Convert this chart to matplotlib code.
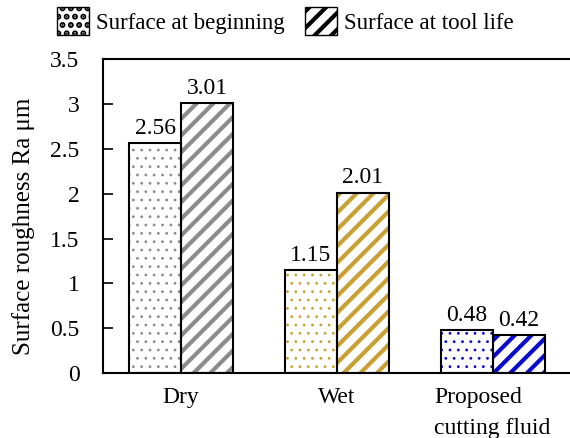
import numpy as np
import matplotlib
matplotlib.use("Agg")
import matplotlib.pyplot as plt
from matplotlib.patches import Patch

plt.rcParams['font.family'] = ['Liberation Serif', 'DejaVu Serif']

categories = ["Dry", "Wet", "Proposed\ncutting fluid"]
beginning = [2.56, 1.15, 0.48]
tool_life = [3.01, 2.01, 0.42]
colors = ["#8c8c8c", "#c9a033", "#0a0acc"]
series_names = ["Surface at beginning", "Surface at tool life"]

fig = plt.figure(figsize=(5.7, 4.38), dpi=100)
ax = fig.add_axes([0.181, 0.148, 0.82, 0.717])

x = np.arange(len(categories))
w = 0.333
fs = 17

for i in range(len(categories)):
    # dotted bar (beginning)
    plt.rcParams['hatch.linewidth'] = 0.8
    ax.bar(x[i] - w / 2, beginning[i], w, facecolor="white", edgecolor=colors[i],
           hatch="..", linewidth=0)
    # striped bar (tool life)
    plt.rcParams['hatch.linewidth'] = 3.0
    ax.bar(x[i] + w / 2, tool_life[i], w, facecolor="white", edgecolor=colors[i],
           hatch="//", linewidth=0)
    # black outlines
    ax.bar(x[i] - w / 2, beginning[i], w, facecolor="none", edgecolor="black", linewidth=1.5)
    ax.bar(x[i] + w / 2, tool_life[i], w, facecolor="none", edgecolor="black", linewidth=1.5)
    ax.text(x[i] - w / 2, beginning[i] + 0.05, f"{beginning[i]:.2f}", ha="center",
            va="bottom", fontsize=fs)
    ax.text(x[i] + w / 2, tool_life[i] + 0.05, f"{tool_life[i]:.2f}", ha="center",
            va="bottom", fontsize=fs)

ax.set_xlim(-0.5, 2.5)
ax.set_ylim(0, 3.5)
ax.set_yticks(np.arange(0, 3.51, 0.5))
ax.set_yticklabels(["0", "0.5", "1", "1.5", "2", "2.5", "3", "3.5"])
ax.set_xticks(x)
ax.set_xticklabels(categories, fontsize=fs, linespacing=1.6, va="top",
                   multialignment="left")
ax.tick_params(axis="y", direction="in", length=7, width=1.2, labelsize=fs, pad=17)
ax.tick_params(axis="x", length=0, pad=10)
for s in ["left", "bottom", "top"]:
    ax.spines[s].set_linewidth(1.5)
ax.spines["right"].set_visible(False)
ax.set_ylabel("Surface roughness Ra μm", fontsize=18)
ax.yaxis.set_label_coords(-0.145, 0.468)

plt.rcParams['hatch.linewidth'] = 3.0
handles = [Patch(facecolor="white", edgecolor="black", hatch="..", linewidth=1),
           Patch(facecolor="white", edgecolor="black", hatch="//", linewidth=1)]
fig.legend(handles, series_names, loc="upper center", bbox_to_anchor=(0.50, 1.03),
           ncol=2, frameon=False, fontsize=16.5, handlelength=1.4, handleheight=1.5,
           handletextpad=0.3, columnspacing=0.9)

fig.savefig("out.png", dpi=100)
